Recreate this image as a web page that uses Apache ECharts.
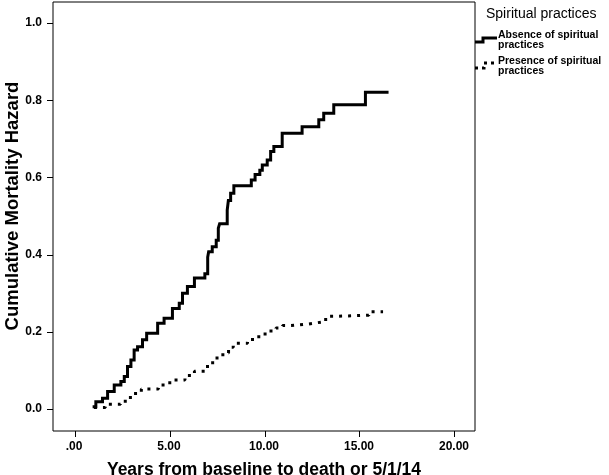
<!DOCTYPE html>
<html>
<head>
<meta charset="utf-8">
<script src="https://cdn.jsdelivr.net/npm/echarts@6/dist/echarts.min.js"></script>
<style>html,body{margin:0;padding:0;background:#fff}#c{width:609px;height:475px}</style>
</head>
<body>
<div id="c"></div>
<script>
// Absence of spiritual practices: step times (years) and cumulative hazard after step
var absenceT = [0.93,1.10,1.45,1.72,2.07,2.42,2.60,2.77,2.95,3.12,3.30,3.56,3.78,4.36,4.70,5.14,5.50,5.67,5.93,6.30,6.85,7.00,7.05,7.24,7.45,7.56,7.63,8.03,8.09,8.21,8.38,9.30,9.50,9.75,9.88,10.14,10.32,10.49,10.93,11.98,12.86,13.12,13.65,15.32,16.54];
var absenceH = [0.006,0.019,0.028,0.045,0.062,0.071,0.084,0.110,0.127,0.153,0.161,0.179,0.196,0.222,0.235,0.260,0.274,0.300,0.317,0.339,0.350,0.393,0.407,0.420,0.437,0.468,0.480,0.515,0.540,0.559,0.578,0.593,0.607,0.618,0.632,0.645,0.667,0.680,0.714,0.731,0.749,0.766,0.788,0.820,0.820];
// Presence of spiritual practices
var presenceT = [1.00,1.60,2.40,2.80,3.10,3.50,4.40,5.00,5.80,6.30,6.90,7.10,7.40,7.80,8.10,8.35,9.10,9.50,9.90,10.20,10.60,10.95,11.40,12.30,13.00,13.45,13.80,15.50,16.25];
var presenceH = [0.004,0.012,0.020,0.030,0.040,0.052,0.062,0.075,0.087,0.098,0.110,0.120,0.132,0.145,0.160,0.170,0.180,0.187,0.194,0.202,0.210,0.216,0.220,0.225,0.232,0.240,0.243,0.252,0.252];

var seriesNames = ['Absence of spiritual\npractices', 'Presence of spiritual\npractices'];
var legendTitle = 'Spiritual practices';
var xTitle = 'Years from baseline to death or 5/1/14';
var yTitle = 'Cumulative Mortality Hazard';
var xTickValues = [0,5,10,15,20];
var xTickLabels = ['.00','5.00','10.00','15.00','20.00'];
var yTickValues = [0,0.2,0.4,0.6,0.8,1.0];
var yTickLabels = ['0.0','0.2','0.4','0.6','0.8','1.0'];

var X_MIN = -1.16, X_MAX = 21.1, Y_MIN = -0.057, Y_MAX = 1.054;

function pairs(t, h){ return t.map(function(v,i){ return [v, h[i]]; }); }
var FF = '"Liberation Sans", Arial, sans-serif';

var chart = echarts.init(document.getElementById('c'), null, {renderer:'canvas'});
var graphics = [
  {type:'text', x:13, y:206, rotation:Math.PI/2,
    style:{text:yTitle, fill:'#000', font:'bold 18.5px ' + FF, align:'center', verticalAlign:'middle', textAlign:'center', textVerticalAlign:'middle'}},
  {type:'text', x:486, y:14,
    style:{text:legendTitle, fill:'#000', font:'14px ' + FF, align:'left', verticalAlign:'middle', textAlign:'left', textVerticalAlign:'middle'}},
  {type:'polyline', shape:{points:[[475,42],[483,42],[483,38],[497,38]]}, style:{stroke:'#000', lineWidth:3, fill:null}},
  {type:'text', x:498, y:40,
    style:{text:seriesNames[0], fill:'#000', font:'bold 10.5px ' + FF, lineHeight:10, align:'left', verticalAlign:'middle', textAlign:'left', textVerticalAlign:'middle'}},
  {type:'polyline', shape:{points:[[475,68],[484,68],[484,63],[497,63]]}, style:{stroke:'#000', lineWidth:3, lineDash:[3,4], fill:null}},
  {type:'text', x:498, y:66,
    style:{text:seriesNames[1], fill:'#000', font:'bold 10.5px ' + FF, lineHeight:10, align:'left', verticalAlign:'middle', textAlign:'left', textVerticalAlign:'middle'}}
];

chart.setOption({
  animation: false,
  backgroundColor: '#fff',
  grid: [
    {left:53, right:134, top:2, bottom:44, show:true, borderColor:'#000', borderWidth:1, backgroundColor:'transparent',
      containLabel:false, outerBoundsMode:'none'},
    {left:74, width:380, top:23, height:386, show:false, containLabel:false, outerBoundsMode:'none'}
  ],
  xAxis: [
    {gridIndex:0, type:'value', min:X_MIN, max:X_MAX, show:false},
    {gridIndex:1, type:'value', min:0, max:20, interval:5, offset:22, show:true,
      splitLine:{show:false}, axisLine:{show:false, onZero:false}, axisTick:{show:false},
      axisLabel:{show:true, margin:10, color:'#000', fontSize:12, fontWeight:'bold', fontFamily:FF,
        formatter:function(v){ var i = xTickValues.indexOf(v); return i >= 0 ? xTickLabels[i] : ''; }},
      name:xTitle, nameLocation:'middle', nameGap:30,
      nameTextStyle:{color:'#000', fontSize:17.5, fontWeight:'bold', fontFamily:FF}}
  ],
  yAxis: [
    {gridIndex:0, type:'value', min:Y_MIN, max:Y_MAX, show:false},
    {gridIndex:1, type:'value', min:0, max:1, interval:0.2, offset:21, show:true,
      splitLine:{show:false}, axisLine:{show:false, onZero:false}, axisTick:{show:false},
      axisLabel:{show:true, margin:11, color:'#000', fontSize:12, fontWeight:'bold', fontFamily:FF,
        formatter:function(v){ var i = Math.round(v/0.2); return yTickLabels[i] || ''; }}}
  ],
  series: [
    {type:'line', name:seriesNames[0], xAxisIndex:0, yAxisIndex:0, step:'end', symbol:'none', data:pairs(absenceT, absenceH),
      lineStyle:{color:'#000', width:3, cap:'butt', join:'miter'}},
    {type:'line', name:seriesNames[1], xAxisIndex:0, yAxisIndex:0, step:'end', symbol:'none', data:pairs(presenceT, presenceH),
      lineStyle:{color:'#000', width:3, type:[3,6], cap:'butt'}},
    {type:'line', xAxisIndex:1, yAxisIndex:1, data:[[0,0]], symbol:'none', lineStyle:{opacity:0}}
  ],
  graphic: graphics
});

// Tick marks placed through the chart's own scales
xTickValues.forEach(function(v){
  var p = chart.convertToPixel({gridIndex:0}, [v, Y_MIN]);
  var x = Math.round(p[0]) + 0.5, y = Math.round(p[1]);
  graphics.push({type:'line', z:100, shape:{x1:x, y1:y, x2:x, y2:y+6}, style:{stroke:'#000', lineWidth:1}});
});
yTickValues.forEach(function(v){
  var p = chart.convertToPixel({gridIndex:0}, [X_MIN, v]);
  var x = Math.round(p[0]), y = Math.round(p[1]) + 0.5;
  graphics.push({type:'line', z:100, shape:{x1:x, y1:y, x2:x-6, y2:y}, style:{stroke:'#000', lineWidth:1}});
});
chart.setOption({graphic: graphics});
</script>
</body>
</html>
